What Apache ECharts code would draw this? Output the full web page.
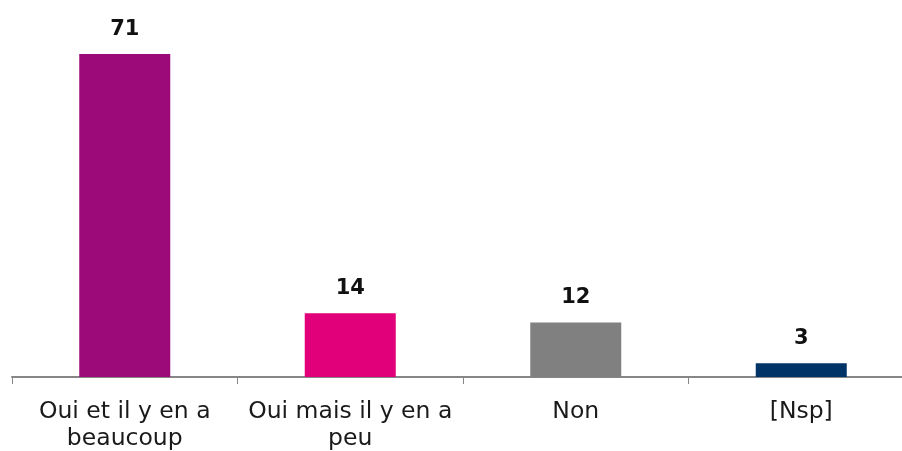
<!DOCTYPE html>
<html>
<head>
<meta charset="utf-8">
<script src="https://cdn.jsdelivr.net/npm/echarts@6/dist/echarts.min.js"></script>
<style>
  html, body { margin: 0; padding: 0; background: #fff; }
  #chart { width: 902px; height: 451px; }
</style>
</head>
<body>
<div id="chart"></div>
<script>
// données
var categories = ['Oui et il y en a\nbeaucoup', 'Oui mais il y en a\npeu', 'Non', '[Nsp]'];
var values = [71, 14, 12, 3];
var barColors = ['#9C0A7A', '#E2007A', '#808080', '#003366'];

var myChart = echarts.init(document.getElementById('chart'), null, { renderer: 'canvas' });

var option = {
    backgroundColor: '#ffffff',
    animation: false,
    grid: {
        left: 12,
        width: 902,
        top: 13,
        bottom: 74,
        outerBoundsMode: 'none'
    },
    xAxis: {
        type: 'category',
        data: categories,
        axisLine: { lineStyle: { color: '#868686', width: 2 } },
        axisTick: { show: true, length: 7, lineStyle: { color: '#868686', width: 1 } },
        axisLabel: {
            interval: 0,
            margin: 21,
            fontFamily: 'DejaVu Sans',
            fontSize: 23.5,
            lineHeight: 27,
            color: '#1a1a1a'
        }
    },
    yAxis: {
        type: 'value',
        min: 0,
        max: 80,
        show: false,
        splitLine: { show: false }
    },
    series: [{
        type: 'bar',
        barWidth: 91,
        data: values.map(function (v, i) {
            return { value: v, itemStyle: { color: barColors[i] } };
        }),
        label: {
            show: true,
            position: 'top',
            distance: 14,
            fontFamily: 'DejaVu Sans',
            fontWeight: 'bold',
            fontSize: 21,
            color: '#111'
        }
    }]
};
myChart.setOption(option);
window.addEventListener('resize', myChart.resize);
</script>
</body>
</html>
